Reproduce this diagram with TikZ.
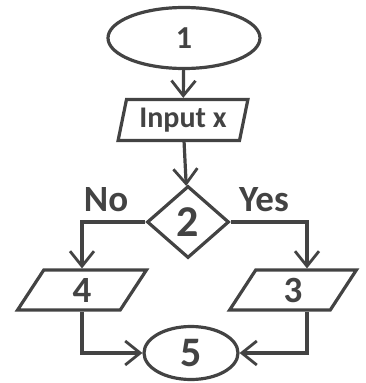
\documentclass[tikz,border=0pt]{standalone}
\usepackage{fontspec}
\setmainfont{Carlito}
\usetikzlibrary{shapes.geometric,arrows.meta}
\definecolor{ink}{HTML}{434343}
\tikzset{
  flow/.style={draw=ink, line width=3.2pt, text=ink, font=\bfseries},
  term/.style={flow, ellipse, inner sep=0pt},
  io/.style={flow, trapezium, trapezium left angle=75, trapezium right angle=105,
    trapezium stretches=true, inner sep=0pt},
  test/.style={flow, diamond, inner sep=0pt},
  link/.style={draw=ink, line width=3.2pt, -{Straight Barb[length=15pt,width=24pt,line width=2.8pt]}},
  side/.style={text=ink, font=\bfseries\fontsize{37}{37}\selectfont}
}
\begin{document}
\begin{tikzpicture}[x=1pt,y=-1pt]
    \useasboundingbox (0,0) rectangle (366,383);

    % Boxes
    \node[term, minimum width=152pt, minimum height=61pt, font=\bfseries\fontsize{32}{32}\selectfont] (e1) at (184,38) {1};
    \node[io, minimum width=131pt, minimum height=41pt, font=\bfseries\fontsize{30}{30}\selectfont] (in) at (183,120) {Input x};
    \node[test, minimum width=82pt, minimum height=72pt, font=\bfseries\fontsize{44}{44}\selectfont] (d2) at (188,222) {2};
    \node[io, minimum width=129pt, minimum height=40pt, font=\bfseries\fontsize{37}{37}\selectfont] (p4) at (82,290) {4};
    \node[io, minimum width=127pt, minimum height=40pt, font=\bfseries\fontsize{37}{37}\selectfont] (p3) at (293,290) {3};
    \node[term, minimum width=94pt, minimum height=53pt, font=\bfseries\fontsize{42}{42}\selectfont] (e5) at (191,353) {5};

    % Branch labels
    \node[side] (no) at (106,200) {No};
    \node[side] (yes) at (264,200) {Yes};

    % Connectors
    \draw[link] (e1) -- (in);
    \draw[link] (in) -- (d2);
    \draw[link] (d2.west) -| (p4.north -| p4.south);
    \draw[link] (d2.east) -| ([xshift=14pt]p3.north);
    \draw[link] (p4.south) |- (e5.west);
    \draw[link] ([xshift=14pt]p3.south) |- (e5.east);
\end{tikzpicture}
\end{document}
